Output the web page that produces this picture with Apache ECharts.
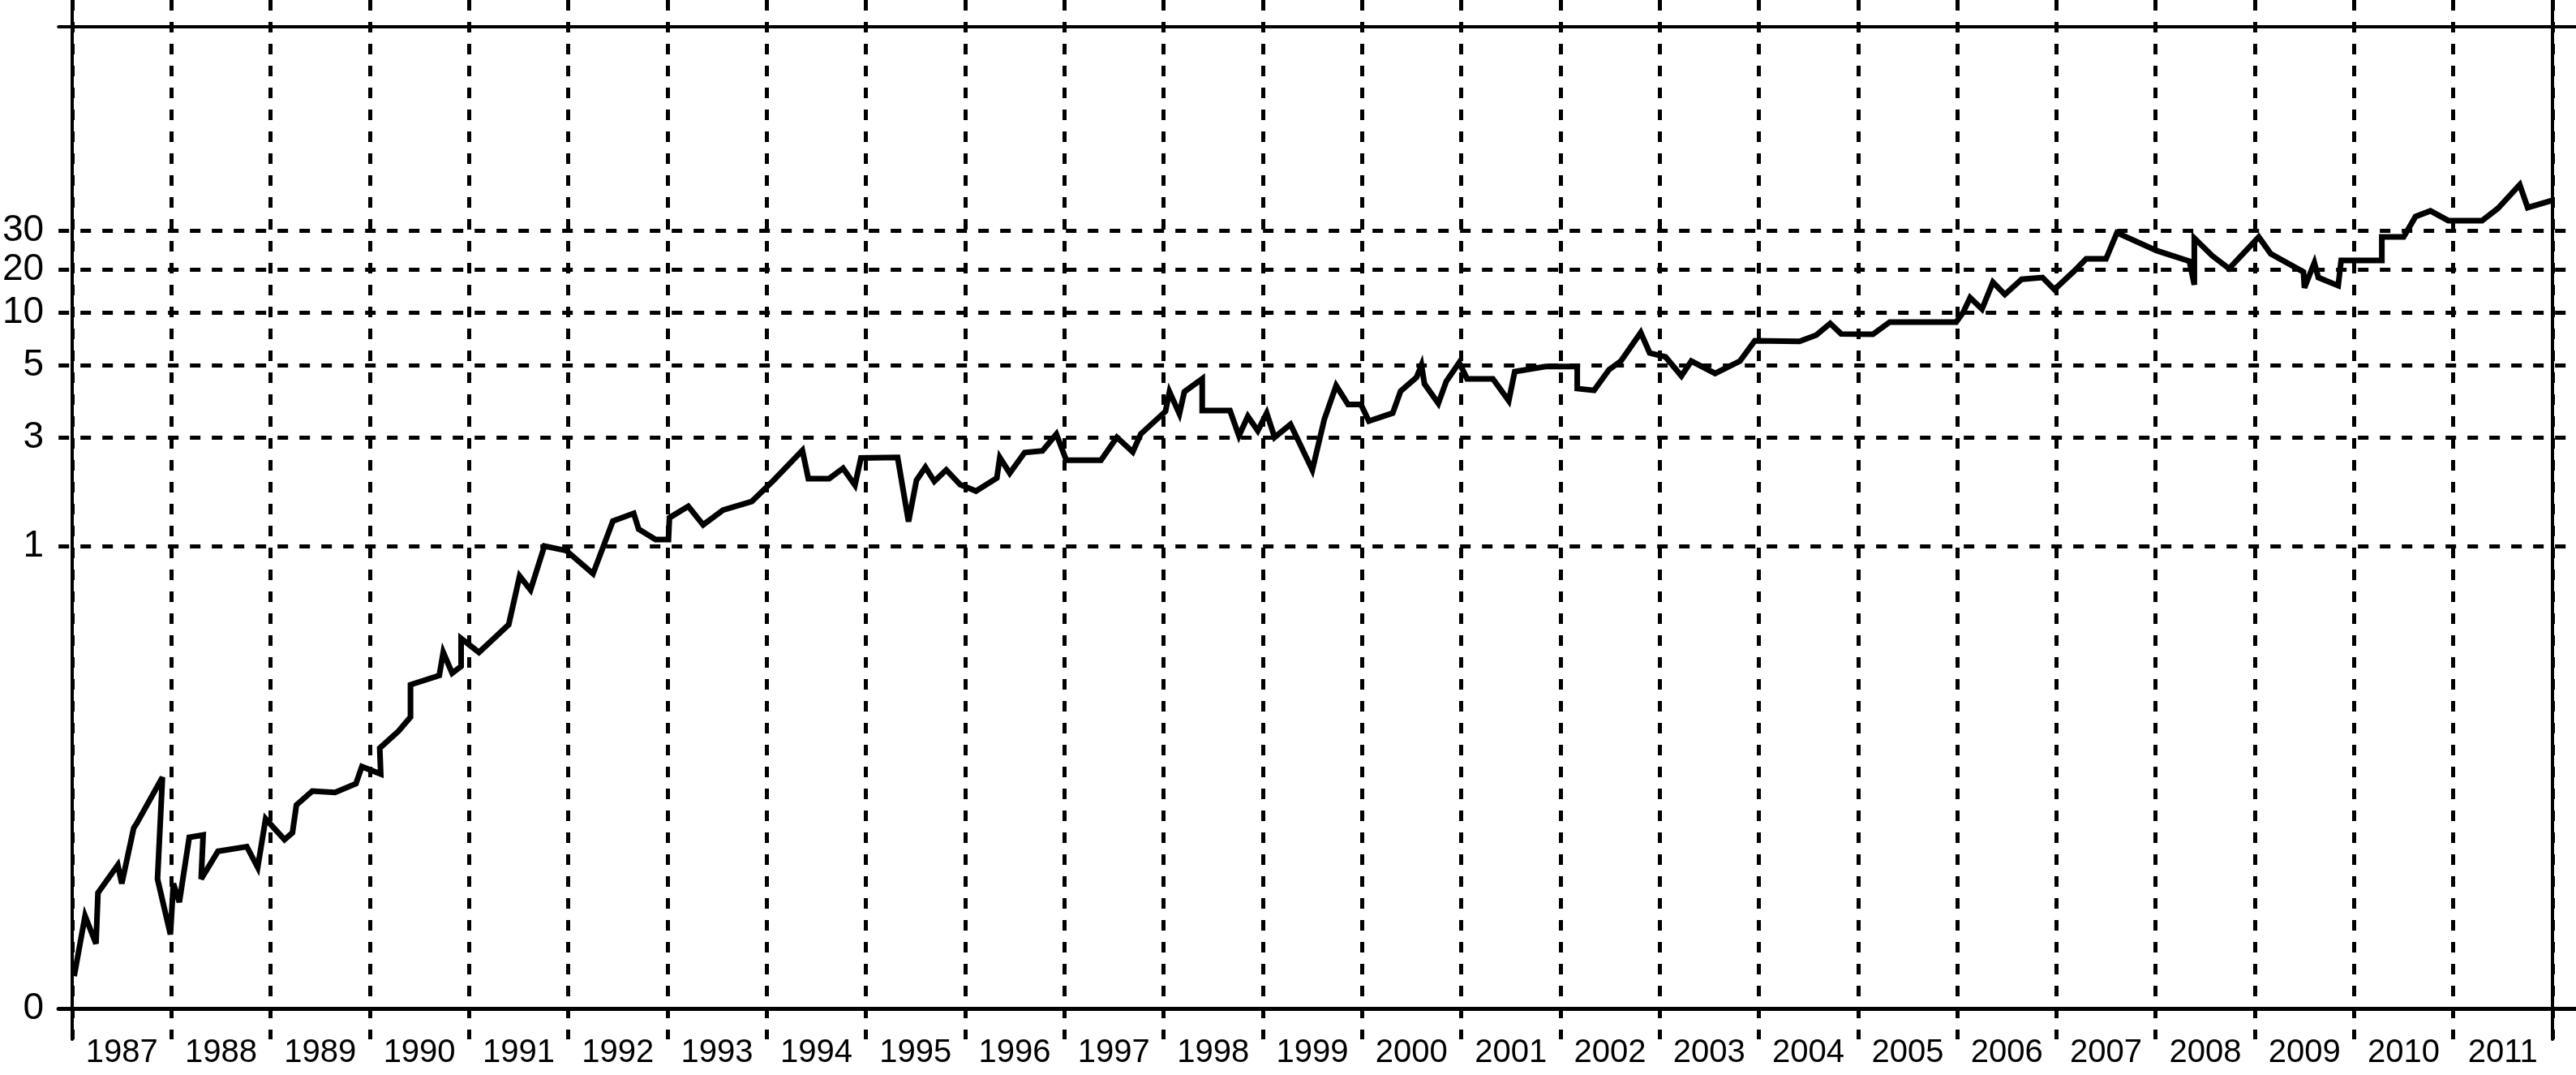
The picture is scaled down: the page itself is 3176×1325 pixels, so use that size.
<!DOCTYPE html>
<html>
<head>
<meta charset="utf-8">
<script src="https://cdn.jsdelivr.net/npm/echarts@6/dist/echarts.min.js"></script>
<style>
  html, body { margin: 0; padding: 0; background: #fff; }
  #chart { width: 3176px; height: 1325px; }
</style>
</head>
<body>
<div id="chart"></div>
<script>
// year labels under the axis, one per year band
const yearLabels = ['1987', '1988', '1989', '1990', '1991', '1992', '1993', '1994', '1995',
    '1996', '1997', '1998', '1999', '2000', '2001', '2002', '2003', '2004', '2005', '2006',
    '2007', '2008', '2009', '2010', '2011'];

// labelled values on the vertical axis
const yTickValues = [0, 1, 3, 5, 10, 20, 30];

// the vertical scale is not linear: where each value sits as a share of the axis height
const yKnotValues = [0, 1, 3, 5, 10, 20, 30, 80];
const yKnotLevels = [0, 0.4711, 0.5818, 0.6554, 0.7091, 0.7529, 0.7926, 1];

// series: dates as decimal years
const dates = [
    1987.02, 1987.13, 1987.24, 1987.26, 1987.46, 1987.50, 1987.62, 1987.65, 1987.91, 1987.86,
    1987.99, 1988.02, 1988.08, 1988.18, 1988.32, 1988.30, 1988.47, 1988.76, 1988.87, 1988.95,
    1989.14, 1989.22, 1989.26, 1989.42, 1989.65, 1989.86, 1989.92, 1990.11, 1990.10, 1990.29,
    1990.41, 1990.41, 1990.70, 1990.74, 1990.83, 1990.92, 1990.92, 1991.10, 1991.40, 1991.51,
    1991.62, 1991.76, 1991.98, 1992.25, 1992.45, 1992.66, 1992.71, 1992.88, 1993.01, 1993.02,
    1993.21, 1993.36, 1993.56, 1993.85, 1994.07, 1994.36, 1994.42, 1994.63, 1994.77, 1994.89,
    1994.95, 1995.32, 1995.43, 1995.51, 1995.60, 1995.69, 1995.81, 1995.95, 1996.11, 1996.32,
    1996.35, 1996.45, 1996.60, 1996.78, 1996.92, 1997.02, 1997.37, 1997.53, 1997.69, 1997.77,
    1998.02, 1998.06, 1998.16, 1998.21, 1998.39, 1998.39, 1998.67, 1998.76, 1998.85, 1998.95,
    1999.04, 1999.12, 1999.28, 1999.50, 1999.62, 1999.74, 1999.86, 1999.99, 2000.07, 2000.31,
    2000.39, 2000.55, 2000.60, 2000.63, 2000.77, 2000.85, 2000.98, 2001.06, 2001.32, 2001.48,
    2001.54, 2001.85, 2002.17, 2002.17, 2002.34, 2002.49, 2002.61, 2002.81, 2002.90, 2003.06,
    2003.22, 2003.32, 2003.56, 2003.81, 2003.96, 2004.41, 2004.58, 2004.72, 2004.83, 2005.15,
    2005.32, 2005.99, 2006.06, 2006.13, 2006.25, 2006.36, 2006.48, 2006.65, 2006.86, 2006.98,
    2007.17, 2007.30, 2007.50, 2007.61, 2008.01, 2008.34, 2008.39, 2008.39, 2008.57, 2008.74,
    2009.04, 2009.16, 2009.49, 2009.50, 2009.60, 2009.64, 2009.84, 2009.87, 2010.28, 2010.28,
    2010.50, 2010.62, 2010.77, 2010.95, 2011.29, 2011.45, 2011.67, 2011.75, 2012.00
];

const values = [
    0.07, 0.20, 0.14, 0.25, 0.31, 0.27, 0.39, 0.40, 0.50, 0.28,
    0.16, 0.27, 0.23, 0.37, 0.375, 0.28, 0.34, 0.35, 0.305, 0.41,
    0.365, 0.38, 0.44, 0.47, 0.467, 0.486, 0.523, 0.507, 0.563, 0.60,
    0.63, 0.70, 0.72, 0.77, 0.725, 0.74, 0.80, 0.77, 0.83, 0.935,
    0.905, 1.0, 0.99, 0.94, 1.46, 1.60, 1.31, 1.12, 1.12, 1.52,
    1.73, 1.39, 1.66, 1.82, 2.21, 2.76, 2.24, 2.24, 2.43, 2.12,
    2.62, 2.63, 1.45, 2.21, 2.45, 2.19, 2.40, 2.13, 2.01, 2.25,
    2.63, 2.34, 2.72, 2.75, 3.09, 2.58, 2.58, 3.0, 2.73, 3.09,
    3.72, 4.26, 3.65, 4.26, 4.62, 3.74, 3.74, 3.04, 3.58, 3.18,
    3.67, 3.0, 3.36, 2.40, 3.49, 4.43, 3.91, 3.91, 3.45, 3.67,
    4.28, 4.66, 5.0, 4.48, 3.94, 4.55, 5.23, 4.62, 4.62, 4.01,
    4.82, 4.96, 4.96, 4.35, 4.30, 4.87, 5.38, 8.08, 6.15, 5.77,
    4.70, 5.38, 4.77, 5.38, 7.31, 7.25, 7.85, 8.95, 7.95, 7.92,
    9.08, 9.08, 10.0, 13.4, 10.75, 17.0, 14.15, 17.7, 18.1, 15.3,
    19.4, 22.7, 22.7, 29.4, 24.8, 22.1, 16.4, 28.0, 23.5, 20.2,
    28.3, 24.0, 19.4, 15.7, 21.7, 18.1, 16.2, 22.3, 22.3, 28.3,
    28.3, 33.4, 34.8, 32.4, 32.4, 35.4, 41.2, 35.6, 37.4
];

// map a value onto the piecewise axis
function toLevel(v) {
    for (let i = 0; i < yKnotValues.length - 1; i++) {
        const a = yKnotValues[i], b = yKnotValues[i + 1];
        if (v <= b || i === yKnotValues.length - 2) {
            const t = (v - a) / (b - a);
            return yKnotLevels[i] + t * (yKnotLevels[i + 1] - yKnotLevels[i]);
        }
    }
    return 0;
}

const tickLevels = yTickValues.map(toLevel);
const gridTicks = tickLevels.slice(1);

function levelLabel(val) {
    for (let i = 0; i < tickLevels.length; i++) {
        if (Math.abs(tickLevels[i] - val) < 1e-6) return String(yTickValues[i]);
    }
    return '';
}

const FONT = "'Liberation Sans', Arial, sans-serif";
const dash = { type: [13, 14], width: 5, color: '#000' };
const off = { show: false };

const chart = echarts.init(document.getElementById('chart'));

chart.setOption({
    animation: false,
    backgroundColor: '#fff',
    grid: [
        { left: 89, right: 29, top: 33, bottom: 82 },  // plot
        { left: 89, right: 29, top: 0, bottom: 44 },   // vertical lines, run past the frame
        { left: 69, right: 0, top: 33, bottom: 82 }    // horizontal lines, run past the frame
    ],
    xAxis: [
        { gridIndex: 0, type: 'value', min: 1987, max: 2012, show: false },
        {
            gridIndex: 0, type: 'category', data: yearLabels, position: 'bottom',
            axisLine: off, axisTick: off, splitLine: off,
            axisLabel: { interval: 0, margin: 35, fontSize: 40, color: '#000', fontFamily: FONT }
        },
        {
            gridIndex: 1, type: 'value', min: 1987, max: 2012, interval: 1,
            axisLine: off, axisTick: off, axisLabel: off,
            splitLine: { show: true, lineStyle: dash }
        },
        {
            gridIndex: 2, type: 'value', min: 0, max: 1, position: 'bottom',
            axisLine: { show: true, lineStyle: { width: 5, color: '#000' } },
            axisTick: off, axisLabel: off, splitLine: off
        },
        {
            gridIndex: 2, type: 'value', min: 0, max: 1, position: 'top',
            axisLine: { show: true, lineStyle: { width: 4, color: '#000' } },
            axisTick: off, axisLabel: off, splitLine: off
        }
    ],
    yAxis: [
        { gridIndex: 0, type: 'value', min: 0, max: 1, show: false },
        {
            gridIndex: 1, type: 'value', min: 0, max: 1, position: 'left',
            axisLine: { show: true, lineStyle: { width: 4, color: '#000' } },
            axisTick: off, axisLabel: off, splitLine: off
        },
        {
            gridIndex: 1, type: 'value', min: 0, max: 1, position: 'right',
            axisLine: { show: true, lineStyle: { width: 4, color: '#000' } },
            axisTick: off, axisLabel: off, splitLine: off
        },
        {
            gridIndex: 2, type: 'value', min: 0, max: 1,
            axisLine: off,
            axisTick: { show: false, customValues: gridTicks },
            axisLabel: {
                customValues: tickLevels, margin: 18, fontSize: 46,
                color: '#000', fontFamily: FONT, formatter: levelLabel
            },
            splitLine: { show: true, lineStyle: dash }
        }
    ],
    series: [{
        type: 'line',
        xAxisIndex: 0,
        yAxisIndex: 0,
        data: dates.map((d, i) => [d, toLevel(values[i])]),
        symbol: 'none',
        lineStyle: { width: 7, color: '#000', join: 'miter', miterLimit: 4 },
        z: 5
    }]
});
</script>
</body>
</html>
